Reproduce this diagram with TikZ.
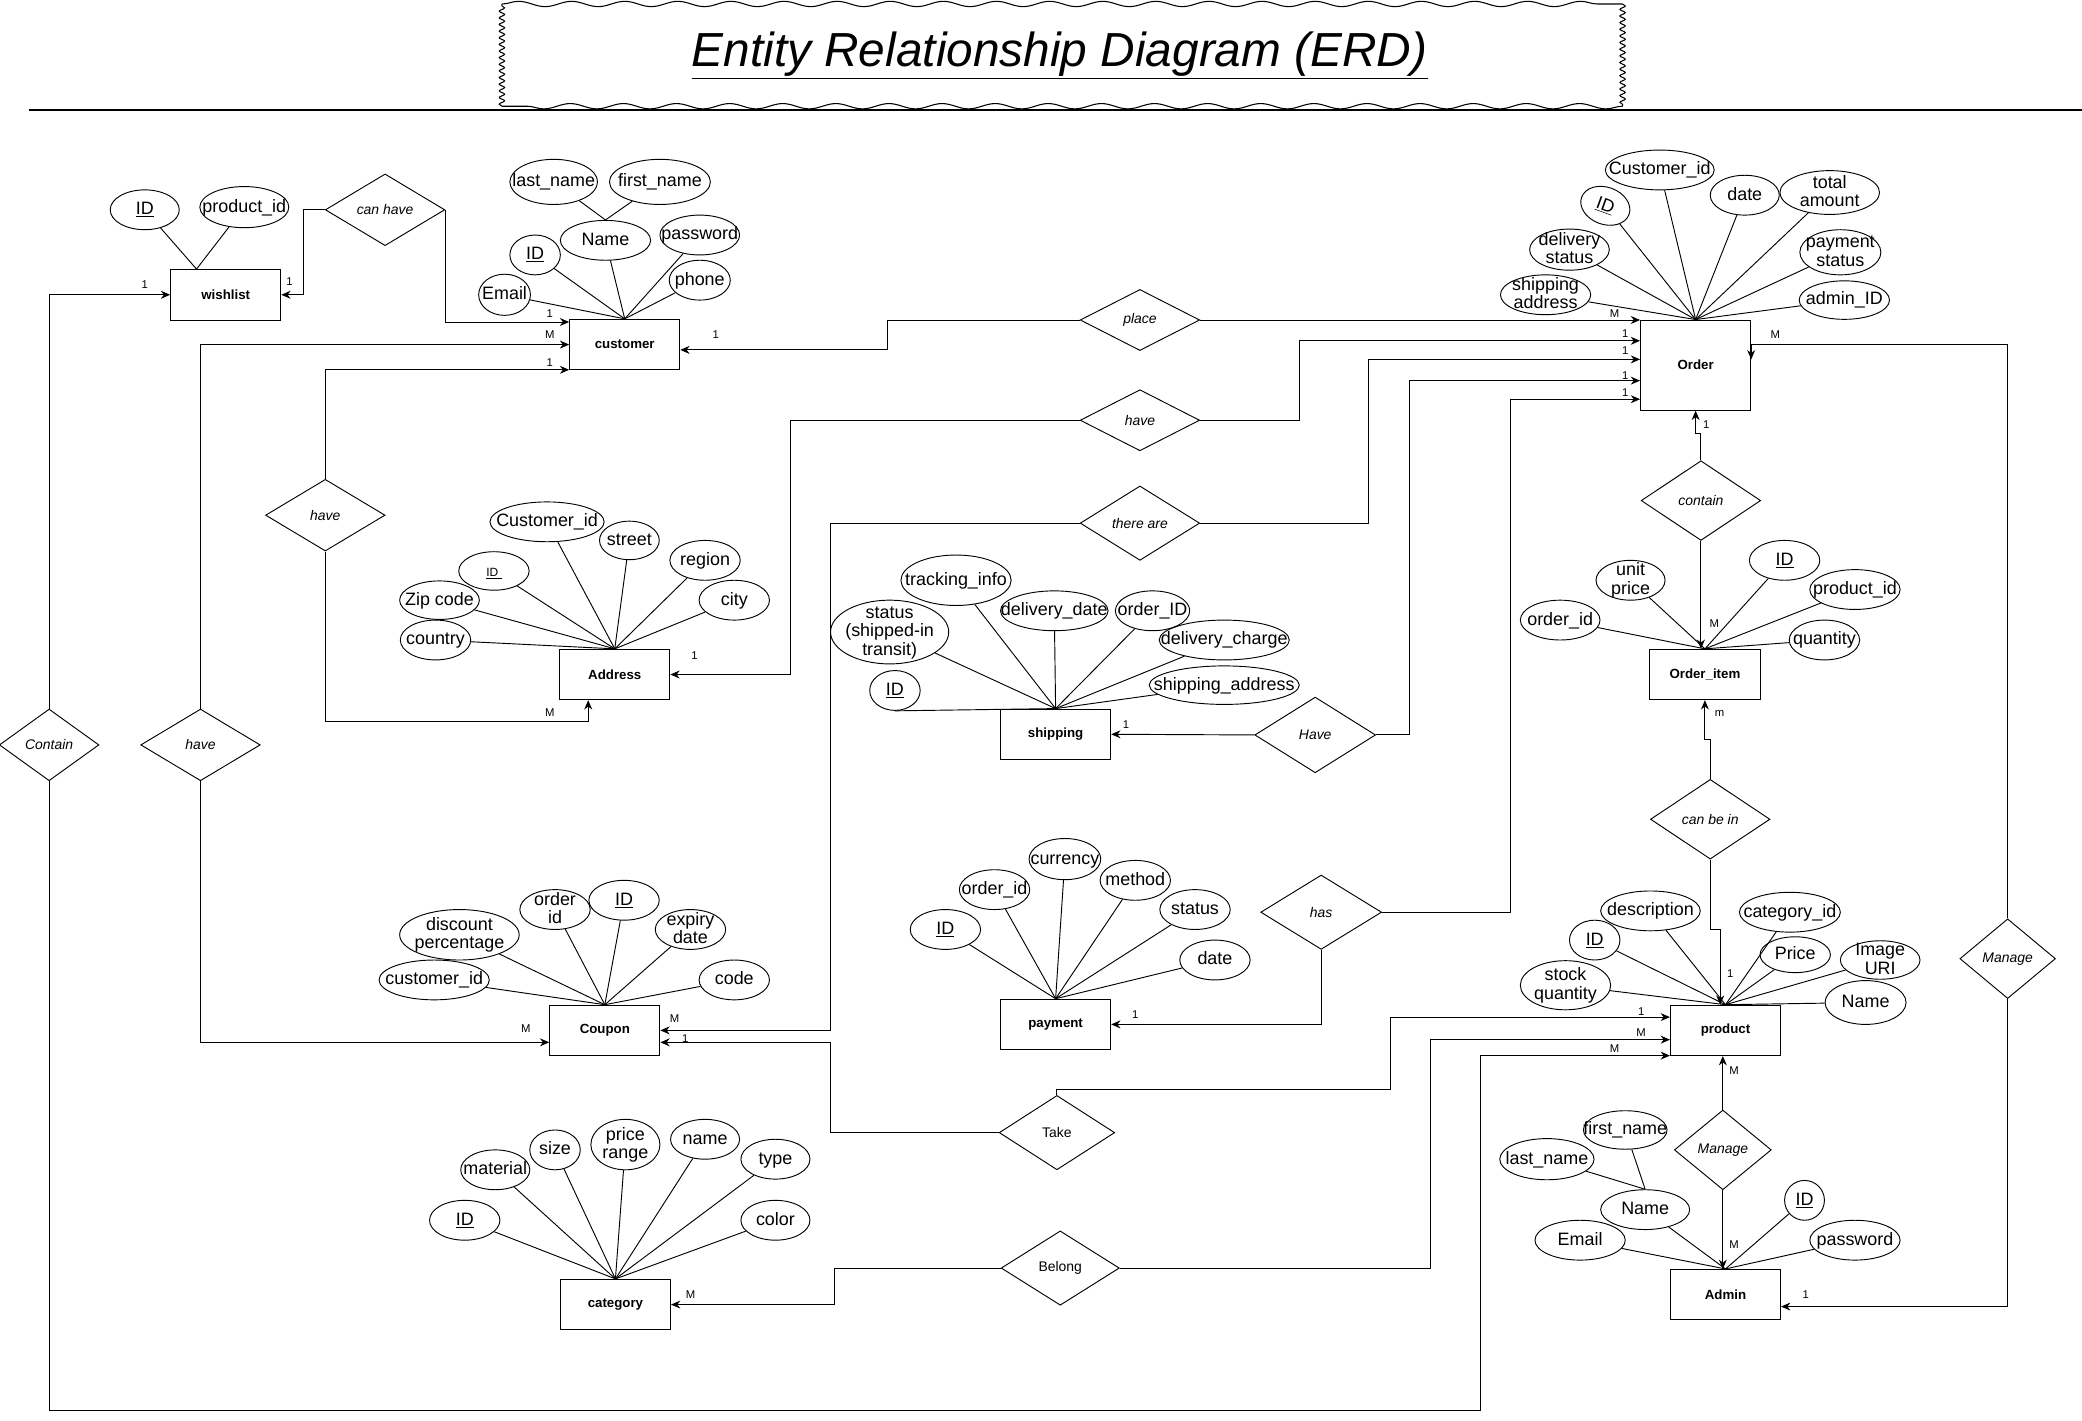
\documentclass[tikz,border=0pt]{standalone}
\usepackage{fontspec}
\setmainfont{Liberation Sans}
\usetikzlibrary{shapes.geometric,arrows.meta,decorations.pathmorphing}

% attribute text takes no room, so the ellipse keeps its set size
\newcommand{\atxt}[1]{\raisebox{-4.5pt}[0pt][0pt]{\makebox[0pt]{\begin{tabular}{@{}c@{}}#1\end{tabular}}}}

\begin{document}
\begin{tikzpicture}[x=1pt,y=-1pt,line width=0.7pt,
  ent/.style={draw, minimum width=83pt, minimum height=38pt, font=\fontsize{10}{12}\selectfont\bfseries},
  rel/.style={draw, diamond, inner sep=0pt, minimum width=90pt, minimum height=54pt, font=\fontsize{10.5}{12}\selectfont\itshape},
  attr/.style={draw, ellipse, inner sep=0pt, font=\fontsize{13.5}{14}\selectfont},
  sz/.style 2 args={minimum width=#1pt, minimum height=#2pt},
  card/.style={font=\fontsize{8.5}{10}\selectfont, inner sep=0pt},
  arr/.style={-{Stealth[length=7pt,width=6pt]}}]

\useasboundingbox (0,0) rectangle (1568,1070);

% title
\draw[line width=0.8pt, decorate, decoration={snake, segment length=40pt, amplitude=2pt}] (378,3) -- (1222,3);
\draw[line width=0.8pt, decorate, decoration={snake, segment length=5pt, amplitude=2pt}] (1222,3) -- (1222,80);
\draw[line width=0.8pt, decorate, decoration={snake, segment length=40pt, amplitude=2pt}] (1222,80) -- (378,80);
\draw[line width=0.8pt, decorate, decoration={snake, segment length=5pt, amplitude=2pt}] (378,80) -- (378,3);
\node[font=\fontsize{36}{40}\selectfont\itshape] (title) at (798,42) {\underline{Entity Relationship Diagram (ERD)}};
\draw[line width=1.5pt] (22,83) -- (1568,83);

% entities
\node[ent] (wishlist) at (170,222) {wishlist};
\node[ent] (customer) at (470.5,259.5) {customer};
\node[ent, minimum height=68pt] (Order) at (1277,275) {Order};
\node[ent] (Address) at (463,508) {Address};
\node[ent] (shipping) at (795,553) {shipping};
\node[ent] (Orderitem) at (1284,508) {Order\_item};
\node[ent] (Coupon) at (455.5,776) {Coupon};
\node[ent] (payment) at (795,771.5) {payment};
\node[ent] (product) at (1299.5,776) {product};
\node[ent] (category) at (463.5,982.5) {category};
\node[ent] (Admin) at (1299.5,975) {Admin};

% relationships
\node[rel] (canhave) at (290,158) {can have};
\node[rel, sz={90}{46}] (place) at (858.5,241) {place};
\node[rel, sz={90}{46}] (haveC) at (858.5,316.5) {have};
\node[rel, sz={90}{56}] (thereare) at (858.5,394) {there are};
\node[rel] (haveA) at (245,388) {have};
\node[rel, sz={91}{57}] (haveS) at (990.5,553.5) {Have};
\node[rel, sz={90}{60}] (containO) at (1281,377) {contain};
\node[rel, sz={90}{60}] (canbein) at (1288,617) {can be in};
\node[rel, sz={91}{56}] (has) at (995,687) {has};
\node[rel, sz={72}{60}] (manageR) at (1512,722) {Manage};
\node[rel, sz={73}{60}] (manageP) at (1297.5,866) {Manage};
\node[rel, sz={75}{54}] (containL) at (37,561) {Contain};
\node[rel] (haveB) at (151,561) {have};
\node[rel, sz={87}{56}, font=\fontsize{10.5}{12}\selectfont] (take) at (796,853) {Take};
\node[rel, sz={89}{56}, font=\fontsize{10.5}{12}\selectfont] (belong) at (798.5,955) {Belong};

% wishlist attributes
\node[attr, sz={52}{30}] (wlID) at (109,158) {\atxt{\underline{ID}}};
\node[attr, sz={67}{31}] (wlProd) at (184,156) {\atxt{product\_id}};
\coordinate (wlHub) at ([xshift=-22pt]wishlist.north);
\draw (wlID) -- (wlHub);
\draw (wlProd) -- (wlHub);

% customer attributes
\node[attr, sz={66}{34}] (cLast) at (417,137) {\atxt{last\_name}};
\node[attr, sz={76}{34}] (cFirst) at (497,137) {\atxt{first\_name}};
\node[attr, sz={68}{30}] (cName) at (456,181) {\atxt{Name}};
\node[attr, sz={38}{30}] (cID) at (403,192) {\atxt{\underline{ID}}};
\node[attr, sz={60}{30}] (cPass) at (527,177) {\atxt{password}};
\node[attr, sz={46}{30}] (cPhone) at (527,211) {\atxt{phone}};
\node[attr, sz={39}{31}] (cEmail) at (380,222) {\atxt{Email}};
\draw (cLast) -- (cName.north);
\draw (cFirst) -- (cName.north);
\foreach \a in {cName,cID,cPass,cPhone,cEmail}
  \draw (\a) -- (customer.north);

% order attributes
\node[attr, sz={82}{30}] (oCust) at (1250,128) {\atxt{Customer\_id}};
\node[attr, sz={38}{28}, rotate=-20] (oID) at (1209,155) {\atxt{\underline{ID}}};
\node[attr, sz={52}{30}] (oDate) at (1314,147) {\atxt{date}};
\node[attr, sz={75}{33}] (oTotal) at (1378,145) {\atxt{total\\amount}};
\node[attr, sz={60}{31}] (oDeliv) at (1182,188) {\atxt{delivery\\status}};
\node[attr, sz={61}{34}] (oPay) at (1386,190) {\atxt{payment\\status}};
\node[attr, sz={68}{30}] (oShip) at (1164,222) {\atxt{shipping\\address}};
\node[attr, sz={68}{29}] (oAdmin) at (1389,226) {\atxt{admin\_ID}};
\foreach \a in {oCust,oID,oDate,oTotal,oDeliv,oPay,oShip,oAdmin}
  \draw (\a) -- (Order.north);

% address attributes
\node[attr, sz={86}{30}] (aCust) at (412,393) {\atxt{Customer\_id}};
\node[attr, sz={45}{29}] (aStreet) at (474,407) {\atxt{street}};
\node[attr, sz={53}{30}] (aRegion) at (531,422) {\atxt{region}};
\node[attr, sz={53}{30}] (aCity) at (553,452) {\atxt{city}};
\node[attr, sz={53}{29}, font=\fontsize{9}{11}\selectfont] (aID) at (372,430) {\atxt{\underline{ID~}}};
\node[attr, sz={60}{29}] (aZip) at (331,452) {\atxt{Zip code}};
\node[attr, sz={53}{30}] (aCountry) at (328,482) {\atxt{country}};
\foreach \a in {aCust,aStreet,aRegion,aCity,aID,aZip,aCountry}
  \draw (\a) -- (Address.north);

% shipping attributes
\node[attr, sz={83}{38}] (sTrack) at (720,437) {\atxt{tracking\_info}};
\node[attr, sz={89}{48}] (sStatus) at (670,476) {\atxt{status\\(shipped-in\\transit)}};
\node[attr, sz={81}{30}] (sDate) at (794,460) {\atxt{delivery\_date}};
\node[attr, sz={56}{30}] (sOrder) at (868,460) {\atxt{order\_ID}};
\node[attr, sz={98}{30}] (sCharge) at (922,482) {\atxt{delivery\_charge}};
\node[attr, sz={113}{29}] (sAddr) at (922,516) {\atxt{shipping\_address}};
\node[attr, sz={38}{30}] (sID) at (674,520) {\atxt{\underline{ID}}};
\foreach \a in {sTrack,sStatus,sDate,sOrder,sCharge,sAddr}
  \draw (\a) -- (shipping.north);
\draw (sID.south) -- (shipping.north);

% order item attributes
\node[attr, sz={52}{30}] (iPrice) at (1228,437) {\atxt{unit\\price}};
\node[attr, sz={53}{30}] (iID) at (1344,422) {\atxt{\underline{ID}}};
\node[attr, sz={68}{30}] (iProd) at (1397,444) {\atxt{product\_id}};
\node[attr, sz={60}{30}] (iOrder) at (1175,467) {\atxt{order\_id}};
\node[attr, sz={53}{30}] (iQty) at (1374,482) {\atxt{quantity}};
\foreach \a in {iPrice,iID,iProd,iOrder,iQty}
  \draw (\a) -- (Orderitem.north);

% coupon attributes
\node[attr, sz={90}{38}] (cpDisc) at (346,704) {\atxt{discount\\percentage}};
\node[attr, sz={53}{30}] (cpOrder) at (418,685) {\atxt{order\\id}};
\node[attr, sz={53}{30}] (cpID) at (470,678) {\atxt{\underline{ID}}};
\node[attr, sz={53}{30}] (cpExp) at (520,700) {\atxt{expiry\\date}};
\node[attr, sz={83}{30}] (cpCust) at (327,738) {\atxt{customer\_id}};
\node[attr, sz={53}{30}] (cpCode) at (553,738) {\atxt{code}};
\foreach \a in {cpDisc,cpOrder,cpID,cpExp,cpCust,cpCode}
  \draw (\a) -- (Coupon.north);

% payment attributes
\node[attr, sz={53}{30}] (pID) at (712,700) {\atxt{\underline{ID}}};
\node[attr, sz={53}{30}] (pOrder) at (749,670) {\atxt{order\_id}};
\node[attr, sz={54}{31}] (pCur) at (802,647) {\atxt{currency}};
\node[attr, sz={53}{30}] (pMethod) at (855,663) {\atxt{method}};
\node[attr, sz={53}{30}] (pStatus) at (900,685) {\atxt{status}};
\node[attr, sz={53}{30}] (pDate) at (915,723) {\atxt{date}};
\foreach \a in {pID,pOrder,pCur,pMethod,pStatus,pDate}
  \draw (\a) -- (payment.north);

% product attributes
\node[attr, sz={75}{30}] (prDesc) at (1243,686) {\atxt{description}};
\node[attr, sz={38}{30}] (prID) at (1201,708) {\atxt{\underline{ID}}};
\node[attr, sz={76}{30}] (prCat) at (1348,687) {\atxt{category\_id}};
\node[attr, sz={53}{27}] (prPrice) at (1352,719) {\atxt{Price}};
\node[attr, sz={60}{29}] (prImg) at (1416,723) {\atxt{Image\\URI}};
\node[attr, sz={68}{37}] (prStock) at (1179,742) {\atxt{stock\\quantity}};
\node[attr, sz={61}{33}] (prName) at (1405,755) {\atxt{Name}};
\foreach \a in {prDesc,prID,prCat,prPrice,prImg,prStock,prName}
  \draw (\a) -- (product.north);

% admin attributes
\node[attr, sz={63}{29}] (adFirst) at (1224,851) {\atxt{first\_name}};
\node[attr, sz={71}{31}] (adLast) at (1165,873) {\atxt{last\_name}};
\node[attr, sz={67}{30}] (adName) at (1239,911) {\atxt{Name}};
\node[attr, sz={68}{30}] (adEmail) at (1190,934) {\atxt{Email}};
\node[attr, sz={30}{30}] (adID) at (1359,904) {\atxt{\underline{ID}}};
\node[attr, sz={68}{30}] (adPass) at (1397,934) {\atxt{password}};
\draw (adFirst) -- (adName.north);
\draw (adLast) -- (adName.north);
\foreach \a in {adName,adEmail,adID,adPass}
  \draw (\a) -- (Admin.north);

% category attributes
\node[attr, sz={53}{30}] (ctID) at (350,919) {\atxt{\underline{ID}}};
\node[attr, sz={52}{30}] (ctMat) at (373,881) {\atxt{material}};
\node[attr, sz={38}{30}] (ctSize) at (418,866) {\atxt{size}};
\node[attr, sz={52}{38}] (ctPrice) at (471,862) {\atxt{price\\range}};
\node[attr, sz={52}{30}] (ctName) at (531,858) {\atxt{name}};
\node[attr, sz={52}{30}] (ctType) at (584,873) {\atxt{type}};
\node[attr, sz={52}{30}] (ctColor) at (584,919) {\atxt{color}};
\foreach \a in {ctID,ctMat,ctSize,ctPrice,ctName,ctType,ctColor}
  \draw (\a) -- (category.north);

% connectors
\draw[arr] (canhave.east) |- ([yshift=17pt]customer.west);
\draw[arr] (canhave.west) -- ++(-16,0) |- (wishlist.east);
\draw[arr] (containL.north) |- (wishlist.west);
\draw[arr] (containL.south) |- (1115,1062) |- ([yshift=-19pt]product.west);
\draw[arr] (haveB.north) |- (customer.west);
\draw[arr] (haveB.south) |- ([yshift=-9pt]Coupon.west);
\draw[arr] (haveA.north) |- ([yshift=-19pt]customer.west);
\draw[arr] (haveA.south) -- ++(0,128) -| ([xshift=-20pt]Address.south);
\draw[arr] (place.east) -- (place.east -| Order.west);
\draw[arr] (place.west) -- ++(-145,0) |- ([yshift=-4pt]customer.east);
\draw[arr] (haveC.east) -- ++(75,0) |- ([yshift=-16pt]Order.north west);
\draw[arr] (haveC.west) -- ++(-218,0) |- (Address.east);
\draw[arr] (thereare.east) -- ++(127,0) |- ([yshift=-30pt]Order.north west);
\draw[arr] (thereare.west) -- ++(-188,0) |- (Coupon.east);
\draw[arr] (haveS.east) -- ++(25,0) |- ([yshift=-46pt]Order.north west);
\draw[arr] (haveS.west) -- (shipping.east);
\draw[arr] (has.east) -- ++(97,0) |- ([yshift=-60pt]Order.north west);
\draw[arr] (has.south) |- (payment.east);
\draw[arr] (take.north) -- ++(0,-4) -| (1047,766) -- ([yshift=10pt]product.west);
\draw[arr] (take.west) -- ++(-127,0) |- ([yshift=-9pt]Coupon.east);
\draw[arr] (belong.east) -- ++(234,0) |- ([yshift=-7pt]product.west);
\draw[arr] (belong.west) -- ++(-125,0) |- (category.east);
\draw[arr] (containO.north) -- ++(0,-20) -| (Order.south);
\draw[arr] (containO.south) -- (containO.south |- Orderitem.north);
\draw[arr] (canbein.north) -- ++(0,-30) -| (Orderitem.south);
\draw[arr] (canbein.south) -- ++(0,53) -| ([xshift=-4pt]product.north);
\draw[arr] (manageP.north) -- (manageP.north |- product.south);
\draw[arr] (manageP.south) -- (manageP.south |- Admin.north);
\draw[arr] (manageR.north) |- ([yshift=-19pt]Order.north east) -- ([yshift=-30pt]Order.north east);
\draw[arr] (manageR.south) |- ([yshift=-9pt]Admin.east);

% cardinalities
\node[card] (kWl1) at (109,214) {1};
\node[card] (kWl2) at (218,212) {1};
\node[card] (kCu1) at (414,236) {1};
\node[card] (kCu2) at (414,252) {M};
\node[card] (kCu3) at (414,273) {1};
\node[card] (kCu4) at (539,252) {1};
\node[card] (kAd1) at (523,494) {1};
\node[card] (kAd2) at (414,537) {M};
\node[card] (kCp1) at (396,775) {M};
\node[card] (kCp2) at (508,767) {M};
\node[card] (kCp3) at (516,782) {1};
\node[card] (kOr1) at (1216,236) {M};
\node[card] (kOr2) at (1224,251) {1};
\node[card] (kOr3) at (1224,264) {1};
\node[card] (kOr4) at (1224,283) {1};
\node[card] (kOr5) at (1224,296) {1};
\node[card] (kOr6) at (1337,252) {M};
\node[card] (kOr7) at (1285,320) {1};
\node[card] (kOi1) at (1291,470) {M};
\node[card] (kOi2) at (1295,537) {m};
\node[card] (kSh1) at (848,546) {1};
\node[card] (kPa1) at (855,764) {1};
\node[card] (kPr1) at (1303,733) {1};
\node[card] (kPr2) at (1236,762) {1};
\node[card] (kPr3) at (1236,778) {M};
\node[card] (kPr4) at (1216,790) {M};
\node[card] (kPr5) at (1306,806) {M};
\node[card] (kAm1) at (1306,937) {M};
\node[card] (kAm2) at (1360,975) {1};
\node[card] (kCa1) at (520,975) {M};

\end{tikzpicture}
\end{document}
